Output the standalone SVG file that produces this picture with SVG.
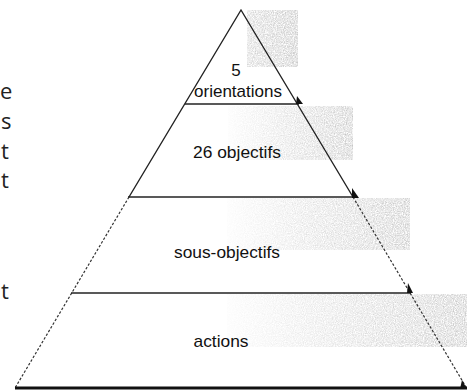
<svg xmlns="http://www.w3.org/2000/svg" width="467" height="392" viewBox="0 0 467 392">
<defs>
  <linearGradient id="shade" x1="0" y1="0" x2="1" y2="0">
    <stop offset="0" stop-color="#000" stop-opacity="0.05"/>
    <stop offset="0.45" stop-color="#000" stop-opacity="0.4"/>
    <stop offset="1" stop-color="#000" stop-opacity="0.75"/>
  </linearGradient>
  <linearGradient id="shadeTop" x1="0" y1="0" x2="1" y2="0">
    <stop offset="0" stop-color="#000" stop-opacity="0.55"/>
    <stop offset="1" stop-color="#000" stop-opacity="0.8"/>
  </linearGradient>
  <filter id="grain" x="0" y="0" width="100%" height="100%">
    <feTurbulence type="fractalNoise" baseFrequency="0.9" numOctaves="2" seed="4" result="n"/>
    <feColorMatrix in="n" type="matrix" values="0 0 0 0 0.42  0 0 0 0 0.42  0 0 0 0 0.42  0 0 0 1.6 -0.4" result="g"/>
    <feComposite in="g" in2="SourceGraphic" operator="in"/>
  </filter>
  <style>
    .solid { stroke: #222; stroke-width: 1.4; fill: none; }
    .dash { stroke: #333; stroke-width: 1.2; fill: none; stroke-dasharray: 2.5 1.8; }
    .lbl { font-family: "Liberation Sans", Arial, sans-serif; font-size: 17px; fill: #111; text-anchor: middle; }
    .side { font-family: "Open Sans", "Liberation Sans", sans-serif; font-size: 22px; fill: #222; }
    .head { fill: #111; }
  </style>
</defs>
<g id="shading" filter="url(#grain)">
  <rect x="247" y="10" width="51" height="57" fill="url(#shadeTop)"/>
  <rect x="228" y="106" width="125" height="54" fill="url(#shade)"/>
  <rect x="227" y="198" width="183" height="52" fill="url(#shade)"/>
  <rect x="227" y="294" width="240" height="53" fill="url(#shade)"/>
</g>
<g id="side-text">
  <text class="side" x="0" y="99">e</text>
  <text class="side" x="1" y="129">s</text>
  <text class="side" x="1" y="159">t</text>
  <text class="side" x="1" y="188">t</text>
  <text class="side" x="1" y="299">t</text>
</g>
<g id="connectors">
  <path class="solid" d="M129,197 L241,10 L353,197"/>
  <path class="dash" d="M129,197 L15,388"/>
  <path class="dash" d="M353,197 L466,387"/>
  <line class="solid" x1="185" y1="104" x2="299" y2="104"/>
  <line class="solid" x1="128" y1="197" x2="355" y2="197"/>
  <line class="solid" x1="71" y1="293" x2="411" y2="293"/>
  <line x1="15" y1="388" x2="467" y2="388" stroke="#111" stroke-width="3"/>
  <polygon class="head" points="297,96 303,104 296,104"/>
  <polygon class="head" points="352,188 359,198 352,198"/>
  <polygon class="head" points="408,283 413,293 407,293"/>
  <polygon class="head" points="462,380 467,389 460,389"/>
</g>
<g id="level1">
  <text class="lbl" x="236" y="76">5</text>
  <text class="lbl" x="238" y="97" textLength="88" lengthAdjust="spacingAndGlyphs">orientations</text>
</g>
<g id="level2">
  <text class="lbl" x="237" y="158" textLength="88" lengthAdjust="spacingAndGlyphs">26 objectifs</text>
</g>
<g id="level3">
  <text class="lbl" x="227" y="258" textLength="106" lengthAdjust="spacingAndGlyphs">sous-objectifs</text>
</g>
<g id="level4">
  <text class="lbl" x="221" y="347" textLength="55" lengthAdjust="spacingAndGlyphs">actions</text>
</g>
</svg>
